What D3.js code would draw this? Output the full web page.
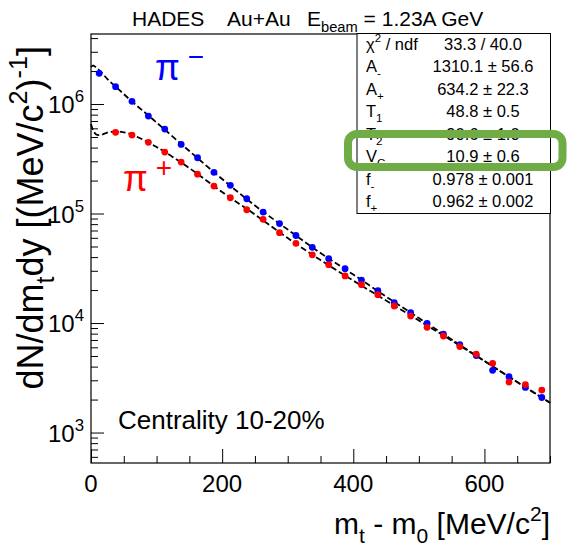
<!DOCTYPE html>
<html>
<head>
<meta charset="utf-8">
<script src="https://cdn.jsdelivr.net/npm/d3@7"></script>
<style>
body { margin: 0; background: #fff; }
text { font-family: "Liberation Sans", Arial, Helvetica, sans-serif; fill: #000; }
</style>
</head>
<body>
<div id="chart"></div>
<script>
// bin centres in m_t - m_0 [MeV/c^2]
var mt = [12.5, 37.5, 62.5, 87.5, 112.5, 137.5, 162.5, 187.5, 212.5, 237.5,
	262.5, 287.5, 312.5, 337.5, 362.5, 387.5, 412.5, 437.5, 462.5, 487.5,
	512.5, 537.5, 562.5, 587.5, 612.5, 637.5, 662.5, 687.5];

// dN/dm_t dy (pi+ has no first bin)
var piMinus = [1.906e6, 1.439e6, 1.058e6, 7.77e5, 5.91e5, 4.28e5, 3.23e5, 2.38e5, 1.81e5, 1.365e5,
	1.032e5, 8.10e4, 6.30e4, 4.91e4, 3.87e4, 3.13e4, 2.47e4, 1.972e4, 1.532e4, 1.242e4,
	9.94e3, 7.93e3, 6.36e3, 5.05e3, 3.70e3, 3.24e3, 2.58e3, 2.09e3];
var piPlus = [null, 5.52e5, 5.21e5, 4.47e5, 3.64e5, 2.95e5, 2.29e5, 1.78e5, 1.394e5, 1.083e5,
	8.85e4, 6.68e4, 5.34e4, 4.20e4, 3.41e4, 2.69e4, 2.24e4, 1.813e4, 1.430e4, 1.158e4,
	9.14e3, 7.61e3, 6.10e3, 5.21e3, 4.29e3, 2.89e3, 2.74e3, 2.44e3];

// fit curves
var fitMt = [0, 3, 8, 14, 25, 40, 60, 100, 150, 200, 250, 300, 350, 400, 450, 500, 550, 600, 650, 700];
var fitMinus = [2.177e6, 2.247e6, 2.155e6, 2.002e6, 1.692e6, 1.400e6, 1.088e6, 6.78e5, 3.72e5, 2.066e5,
	1.183e5, 7.14e4, 4.36e4, 2.77e4, 1.746e4, 1.111e4, 7.07e3, 4.50e3, 2.89e3, 1.872e3];
var fitPlus = [6.57e5, 5.79e5, 5.27e5, 5.21e5, 5.49e5, 5.63e5, 5.32e5, 4.05e5, 2.60e5, 1.572e5,
	9.79e4, 5.97e4, 3.76e4, 2.44e4, 1.605e4, 1.054e4, 6.92e3, 4.50e3, 2.89e3, 1.872e3];

var xTicks = [0, 200, 400, 600];
var yTicks = [1e3, 1e4, 1e5, 1e6];

var statNames = ['\u03C7^{2} / ndf', 'A_{-}', 'A_{+}', 'T_{1}', 'T_{2}', 'V_{C}', 'f_{-}', 'f_{+}'];
var statValues = ['33.3 / 40.0', '1310.1 \u00B1 56.6', '634.2 \u00B1 22.3', '48.8 \u00B1 0.5',
	'90.6 \u00B1 1.0', '10.9 \u00B1 0.6', '0.978 \u00B1 0.001', '0.962 \u00B1 0.002'];

var W = 567, H = 548
	, m = {left: 91, right: 17, top: 34, bottom: 85}

// tiny ROOT-latex: handles _{..} and ^{..}
function latex(sel, str, fs) {
	var parts = str.split(/(_\{[^}]*\}|\^\{[^}]*\})/).filter(function (p) { return p.length })
	var shift = 0
	parts.forEach(function (p) {
		var target = 0, size = fs
		if (p[0] == '_') { target = 0.3 * fs; size = 0.7 * fs; p = p.slice(2, -1) }
		else if (p[0] == '^') { target = -0.45 * fs; size = 0.7 * fs; p = p.slice(2, -1) }
		sel.append('tspan').attr('dy', target - shift).attr('font-size', size).text(p)
		shift = target
	})
	return sel
}

var svg = d3.select('#chart').append('svg')
	.attr('width', W).attr('height', H)
	.attr('xmlns', 'http://www.w3.org/2000/svg');

var x = d3.scaleLinear().domain([0, 700]).range([m.left, W - m.right]);
var y = d3.scaleLog().domain([527, 4.36e6]).range([H - m.bottom, m.top]);

// ticks pointing inwards, like ROOT
var xAxis = d3.axisBottom(x).tickValues(d3.range(0, 701, 50)).tickSize(-7).tickFormat('');
var gx = svg.append('g').attr('transform', 'translate(0,' + (H - m.bottom) + ')').call(xAxis);
gx.selectAll('.tick line').filter(function (d) { return xTicks.indexOf(d) >= 0 }).attr('y2', -14);

var minors = [];
[100, 1000, 1e4, 1e5, 1e6].forEach(function (dec) {
	for (var k = 1; k < 10; k++) {
		var v = dec * k
		if (v >= y.domain()[0] && v <= y.domain()[1]) minors.push(v)
	}
});
var yAxis = d3.axisLeft(y).tickValues(minors).tickSize(-7).tickFormat('');
var gy = svg.append('g').attr('transform', 'translate(' + m.left + ',0)').call(yAxis);
gy.selectAll('.tick line').filter(function (d) { return yTicks.indexOf(d) >= 0 }).attr('x2', 13);

svg.selectAll('.domain').remove();
svg.selectAll('.tick line').attr('stroke', '#000').attr('stroke-width', 1);

// frame
svg.append('rect')
	.attr('x', m.left).attr('y', m.top)
	.attr('width', W - m.left - m.right).attr('height', H - m.top - m.bottom)
	.attr('fill', 'none').attr('stroke', '#000').attr('stroke-width', 1.2);

// tick labels
svg.selectAll('.xlab').data(xTicks).enter().append('text')
	.attr('x', function (d) { return x(d) }).attr('y', H - m.bottom + 29)
	.attr('text-anchor', 'middle').attr('font-size', 24)
	.text(function (d) { return d });

svg.selectAll('.ylab').data(yTicks).enter().append('text')
	.attr('x', 84).attr('y', function (d) { return y(d) + 9 })
	.attr('text-anchor', 'end')
	.each(function (d) { latex(d3.select(this), '10^{' + Math.round(Math.log10(d)) + '}', 24) });

// axis titles
latex(svg.append('text').attr('x', W - m.right).attr('y', 534).attr('text-anchor', 'end'),
	'm_{t} - m_{0} [MeV/c^{2}]', 30);
latex(svg.append('text').attr('transform', 'translate(43,46) rotate(-90)').attr('text-anchor', 'end'),
	'dN/dm_{t}dy [(MeV/c^{2})^{-1}]', 36);

// title
svg.append('text').attr('x', 132).attr('y', 26).attr('font-size', 21).text('HADES');
svg.append('text').attr('x', 227).attr('y', 26).attr('font-size', 21).text('Au+Au');
latex(svg.append('text').attr('x', 307).attr('y', 26), 'E_{beam} = 1.23A GeV', 21);

// fits
var line = d3.line()
	.x(function (d) { return x(d[0]) })
	.y(function (d) { return y(d[1]) })
	.curve(d3.curveCatmullRom);

[fitMinus, fitPlus].forEach(function (f) {
	svg.append('path')
		.datum(fitMt.map(function (v, i) { return [v, f[i]] }))
		.attr('d', line)
		.attr('fill', 'none').attr('stroke', '#000').attr('stroke-width', 1.8)
		.attr('stroke-dasharray', '6,3');
});

// data points
function dots(vals, col) {
	svg.append('g').selectAll('circle')
		.data(mt.map(function (v, i) { return [v, vals[i]] }).filter(function (d) { return d[1] != null }))
		.enter().append('circle')
		.attr('cx', function (d) { return x(d[0]) })
		.attr('cy', function (d) { return y(d[1]) })
		.attr('r', 3.4).attr('fill', col);
}
dots(piMinus, '#0000ff');
dots(piPlus, '#ff0000');

// particle labels
var sym = svg.append('text').attr('x', 155).attr('y', 80).style('fill', '#0000ff')
	.attr('font-family', '"Liberation Serif", "DejaVu Serif", serif');
sym.append('tspan').attr('font-size', 36).text('\u03C0');
sym.append('tspan').attr('font-size', 28).attr('dx', 8).attr('dy', -14).text('\u2212');
sym = svg.append('text').attr('x', 123).attr('y', 191).style('fill', '#ff0000')
	.attr('font-family', '"Liberation Serif", "DejaVu Serif", serif');
sym.append('tspan').attr('font-size', 36).text('\u03C0');
sym.append('tspan').attr('font-size', 28).attr('dx', 8).attr('dy', -14).text('+');

svg.append('text').attr('x', 118).attr('y', 429).attr('font-size', 26).text('Centrality 10-20%');

// stats box
var bx = 357, by = 33.5, bw = 193.5, rowH = 22.5;
svg.append('rect').attr('x', bx).attr('y', by).attr('width', bw).attr('height', rowH * statNames.length)
	.attr('fill', '#fff').attr('stroke', '#000').attr('stroke-width', 1);
statNames.forEach(function (s, i) {
	latex(svg.append('text').attr('x', 366).attr('y', by + rowH * (i + 0.5) + 5), s, 16.5);
	svg.append('text').attr('x', 483).attr('y', by + rowH * (i + 0.5) + 5)
		.attr('text-anchor', 'middle').attr('font-size', 16.5).text(statValues[i]);
});

// highlight around V_C
svg.append('rect').attr('x', 348).attr('y', 134).attr('width', 214.5).attr('height', 33)
	.attr('rx', 9).attr('fill', 'none').attr('stroke', '#6fac46').attr('stroke-width', 8);
</script>
</body>
</html>
